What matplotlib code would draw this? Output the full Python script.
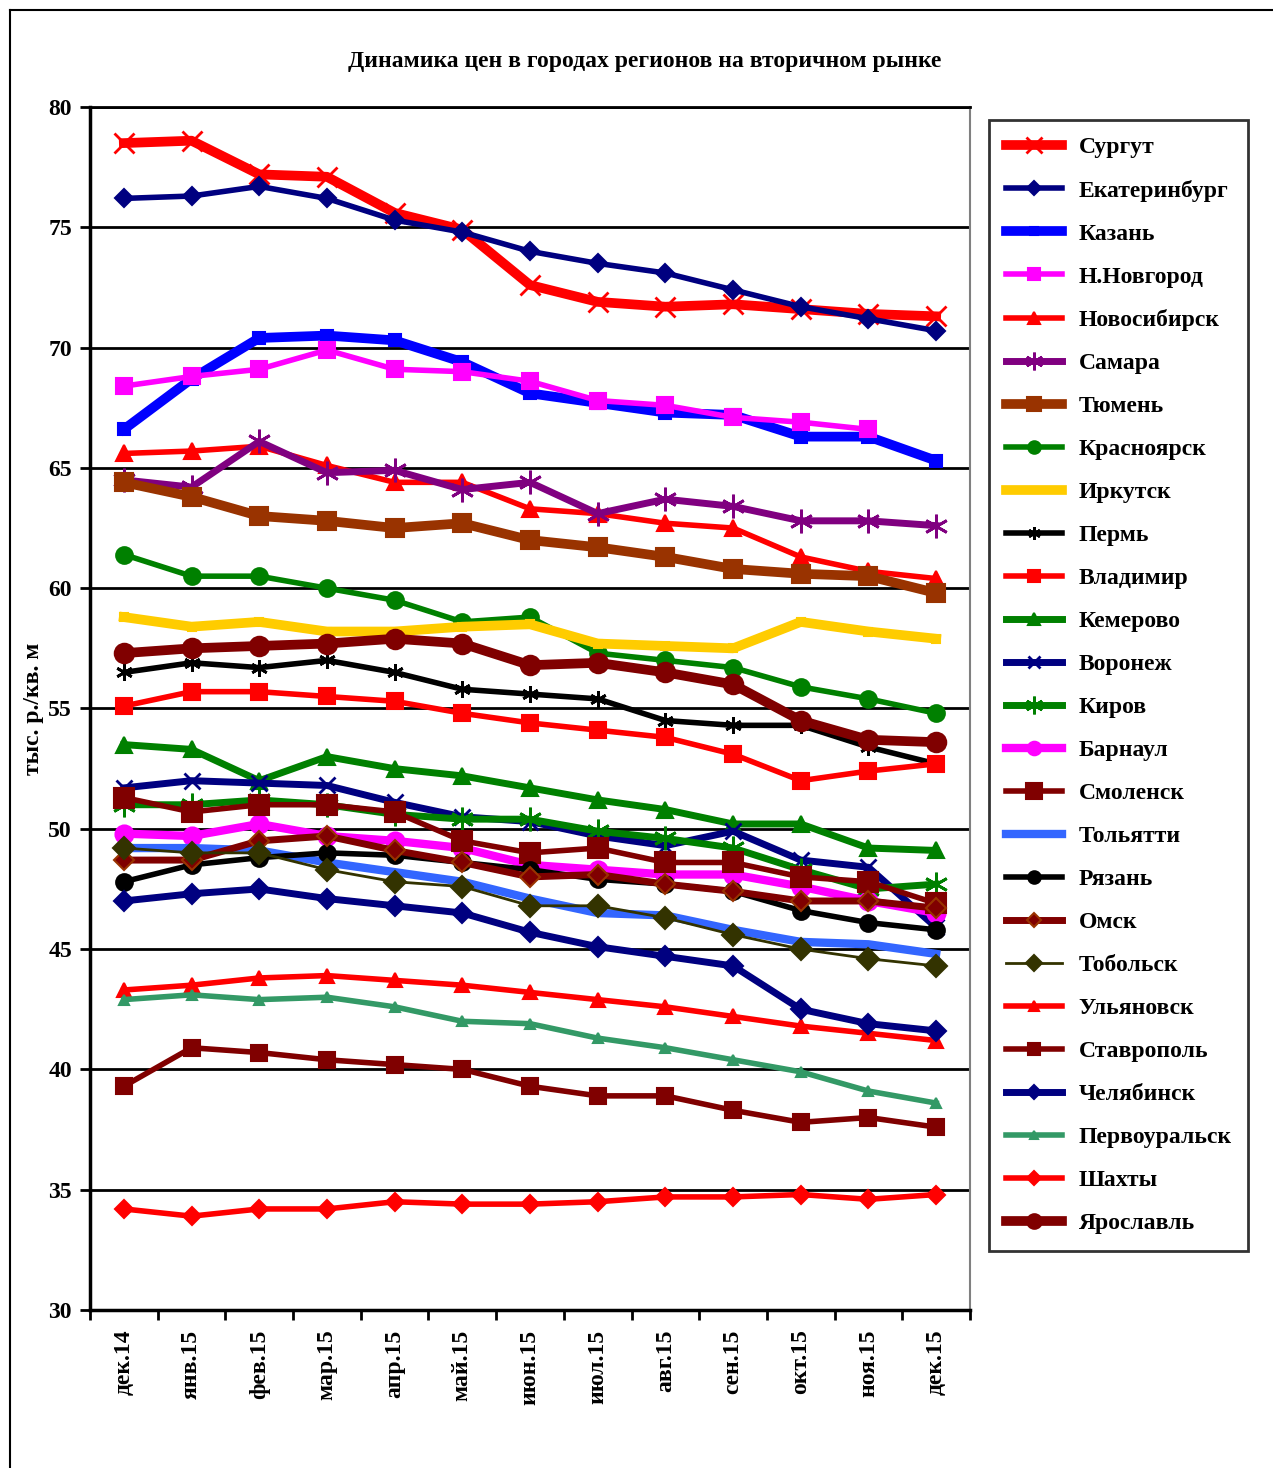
import matplotlib
matplotlib.use("Agg")
import matplotlib.pyplot as plt
from matplotlib.lines import Line2D

plt.rcParams['font.family'] = ['Liberation Serif', 'DejaVu Serif']
plt.rcParams['font.weight'] = 'bold'

months = ["дек.14", "янв.15", "фев.15", "мар.15", "апр.15", "май.15", "июн.15",
          "июл.15", "авг.15", "сен.15", "окт.15", "ноя.15", "дек.15"]

surgut = [78.5, 78.6, 77.2, 77.1, 75.6, 74.9, 72.6, 71.9, 71.7, 71.8, 71.6, 71.4, 71.3]
ekaterinburg = [76.2, 76.3, 76.7, 76.2, 75.3, 74.8, 74.0, 73.5, 73.1, 72.4, 71.7, 71.2, 70.7]
kazan = [66.6, 68.7, 70.4, 70.5, 70.3, 69.4, 68.1, 67.7, 67.3, 67.2, 66.3, 66.3, 65.3]
nnovgorod = [68.4, 68.8, 69.1, 69.9, 69.1, 69.0, 68.6, 67.8, 67.6, 67.1, 66.9, 66.6, None]
novosibirsk = [65.6, 65.7, 65.9, 65.1, 64.4, 64.4, 63.3, 63.1, 62.7, 62.5, 61.3, 60.7, 60.4]
samara = [64.5, 64.2, 66.1, 64.8, 64.9, 64.1, 64.4, 63.1, 63.7, 63.4, 62.8, 62.8, 62.6]
tyumen = [64.4, 63.8, 63.0, 62.8, 62.5, 62.7, 62.0, 61.7, 61.3, 60.8, 60.6, 60.5, 59.8]
krasnoyarsk = [61.4, 60.5, 60.5, 60.0, 59.5, 58.6, 58.8, 57.3, 57.0, 56.7, 55.9, 55.4, 54.8]
irkutsk = [58.8, 58.4, 58.6, 58.2, 58.2, 58.4, 58.5, 57.7, 57.6, 57.5, 58.6, 58.2, 57.9]
perm = [56.5, 56.9, 56.7, 57.0, 56.5, 55.8, 55.6, 55.4, 54.5, 54.3, 54.3, 53.4, 52.7]
vladimir = [55.1, 55.7, 55.7, 55.5, 55.3, 54.8, 54.4, 54.1, 53.8, 53.1, 52.0, 52.4, 52.7]
kemerovo = [53.5, 53.3, 52.0, 53.0, 52.5, 52.2, 51.7, 51.2, 50.8, 50.2, 50.2, 49.2, 49.1]
voronezh = [51.7, 52.0, 51.9, 51.8, 51.1, 50.5, 50.3, 49.7, 49.3, 49.9, 48.7, 48.4, 45.9]
kirov = [51.0, 51.0, 51.2, 51.0, 50.6, 50.4, 50.4, 49.9, 49.6, 49.2, 48.3, 47.5, 47.7]
barnaul = [49.8, 49.7, 50.2, 49.7, 49.5, 49.2, 48.5, 48.3, 48.1, 48.1, 47.6, 47.0, 46.5]
smolensk = [51.3, 50.7, 51.0, 51.0, 50.7, 49.5, 49.0, 49.2, 48.6, 48.6, 48.0, 47.8, 46.9]
tolyatti = [49.2, 49.2, 49.1, 48.6, 48.2, 47.8, 47.1, 46.5, 46.4, 45.8, 45.3, 45.2, 44.8]
ryazan = [47.8, 48.5, 48.8, 49.0, 48.9, 48.6, 48.3, 47.9, 47.7, 47.4, 46.6, 46.1, 45.8]
omsk = [48.7, 48.7, 49.5, 49.7, 49.1, 48.6, 48.0, 48.1, 47.7, 47.4, 47.0, 47.0, 46.7]
tobolsk = [49.2, 49.0, 49.0, 48.3, 47.8, 47.6, 46.8, 46.8, 46.3, 45.6, 45.0, 44.6, 44.3]
ulyanovsk = [43.3, 43.5, 43.8, 43.9, 43.7, 43.5, 43.2, 42.9, 42.6, 42.2, 41.8, 41.5, 41.2]
stavropol = [39.3, 40.9, 40.7, 40.4, 40.2, 40.0, 39.3, 38.9, 38.9, 38.3, 37.8, 38.0, 37.6]
chelyabinsk = [47.0, 47.3, 47.5, 47.1, 46.8, 46.5, 45.7, 45.1, 44.7, 44.3, 42.5, 41.9, 41.6]
pervouralsk = [42.9, 43.1, 42.9, 43.0, 42.6, 42.0, 41.9, 41.3, 40.9, 40.4, 39.9, 39.1, 38.6]
shakhty = [34.2, 33.9, 34.2, 34.2, 34.5, 34.4, 34.4, 34.5, 34.7, 34.7, 34.8, 34.6, 34.8]
yaroslavl = [57.3, 57.5, 57.6, 57.7, 57.9, 57.7, 56.8, 56.9, 56.5, 56.0, 54.5, 53.7, 53.6]

yticks = [30, 35, 40, 45, 50, 55, 60, 65, 70, 75, 80]

STAR = (6, 2, 0)
# name, data, color, lw, marker, ms, mfc, mec
series = [
    ("Сургут", surgut, "#FF0000", 7, "x", 15, "#FF0000", "#FF0000"),
    ("Екатеринбург", ekaterinburg, "#000080", 4, "D", 9, "#000080", "#000080"),
    ("Казань", kazan, "#0000FF", 7, "s", 8, "#0000FF", "#0000FF"),
    ("Н.Новгород", nnovgorod, "#FF00FF", 4, "s", 12, "#FF00FF", "#FF00FF"),
    ("Новосибирск", novosibirsk, "#FF0000", 4, "^", 11, "#FF0000", "#FF0000"),
    ("Самара", samara, "#800080", 5, STAR, 17, "#800080", "#800080"),
    ("Тюмень", tyumen, "#993300", 7, "s", 13, "#993300", "#993300"),
    ("Красноярск", krasnoyarsk, "#008000", 4, "o", 12, "#008000", "#008000"),
    ("Иркутск", irkutsk, "#FFCC00", 7, "s", 6, "#FFCC00", "#FFCC00"),
    ("Пермь", perm, "#000000", 4, STAR, 12, "#000000", "#000000"),
    ("Владимир", vladimir, "#FF0000", 4, "s", 12, "#FF0000", "#FF0000"),
    ("Кемерово", kemerovo, "#008000", 5, "^", 12, "#008000", "#008000"),
    ("Воронеж", voronezh, "#000080", 5, "x", 12, "#000080", "#000080"),
    ("Киров", kirov, "#008000", 5, STAR, 17, "#008000", "#008000"),
    ("Барнаул", barnaul, "#FF00FF", 6, "o", 13, "#FF00FF", "#FF00FF"),
    ("Смоленск", smolensk, "#800000", 4, "s", 15, "#800000", "#800000"),
    ("Тольятти", tolyatti, "#3366FF", 6, "None", 0, "#3366FF", "#3366FF"),
    ("Рязань", ryazan, "#000000", 4, "o", 12, "#000000", "#000000"),
    ("Омск", omsk, "#800000", 5, "D", 10, "#800000", "#993300"),
    ("Тобольск", tobolsk, "#333300", 2, "D", 11, "#333300", "#333300"),
    ("Ульяновск", ulyanovsk, "#FF0000", 4, "^", 10, "#FF0000", "#FF0000"),
    ("Ставрополь", stavropol, "#800000", 4, "s", 12, "#800000", "#800000"),
    ("Челябинск", chelyabinsk, "#000080", 5, "D", 10, "#000080", "#000080"),
    ("Первоуральск", pervouralsk, "#339966", 4, "^", 7, "#339966", "#339966"),
    ("Шахты", shakhty, "#FF0000", 4, "D", 9, "#FF0000", "#FF0000"),
    ("Ярославль", yaroslavl, "#800000", 7, "o", 14, "#800000", "#800000"),
]

FS = 17
W, H = 1273, 1468
fig = plt.figure(figsize=(W / 100, H / 100), dpi=100)
ax = fig.add_axes([90 / W, 1 - 1310 / H, 880 / W, 1203 / H])

x = list(range(len(months)))
handles = []
for name, data, color, lw, marker, ms, mfc, mec in series:
    xs = [xi for xi, v in zip(x, data) if v is not None]
    ys = [v for v in data if v is not None]
    mew = 2 if marker in ("x", STAR) else 1.5
    ax.plot(xs, ys, color=color, lw=lw, marker=marker, ms=ms,
            mfc=mfc, mec=mec, mew=mew, solid_joinstyle="round")
    handles.append(Line2D([0], [0], color=color, lw=lw, marker=marker,
                          ms=ms * 0.75, mfc=mfc, mec=mec, mew=mew))

ax.set_xlim(-0.5, len(months) - 0.5)
ax.set_ylim(30, 80)
ax.set_yticks(yticks)
ax.set_yticklabels([str(t) for t in yticks], fontsize=FS, fontweight="bold")
ax.set_xticks(x)
ax.set_xticklabels(months, rotation=90, fontsize=FS, fontweight="bold")
ax.set_xticks([i - 0.5 for i in range(len(months) + 1)], minor=True)
ax.tick_params(axis="x", which="major", length=0, pad=14)
ax.tick_params(axis="x", which="minor", length=7, width=2, direction="out")
ax.tick_params(axis="y", length=7, width=2, direction="out", pad=6)
ax.yaxis.grid(True, color="black", lw=2)
ax.set_axisbelow(True)
for side in ["left", "bottom"]:
    ax.spines[side].set_linewidth(2.5)
ax.spines["top"].set_linewidth(2)
ax.spines["right"].set_linewidth(1.5)
ax.spines["right"].set_color("#808080")

ax.set_ylabel("тыс. р./кв. м", fontsize=FS, fontweight="bold", labelpad=3)
fig.text(645 / W, 1 - 61 / H, "Динамика цен в городах регионов на вторичном рынке",
         ha="center", va="center", fontsize=FS, fontweight="bold")

leg = fig.legend(handles, [s[0] for s in series], loc="upper left",
                 bbox_to_anchor=(989 / W, 1 - 120 / H),
                 prop={"weight": "bold", "size": FS}, frameon=True, fancybox=False,
                 edgecolor="black", handlelength=2.4, labelspacing=0.91,
                 borderpad=0.7, handletextpad=0.7, borderaxespad=0)
leg.get_frame().set_linewidth(2)

# outer chart-area border
fig.add_artist(Line2D([10 / W, 10 / W], [0, 1 - 10 / H], color="black", lw=1.5))
fig.add_artist(Line2D([10 / W, 1], [1 - 10 / H, 1 - 10 / H], color="black", lw=1.5))

fig.savefig("out.png", dpi=100)
